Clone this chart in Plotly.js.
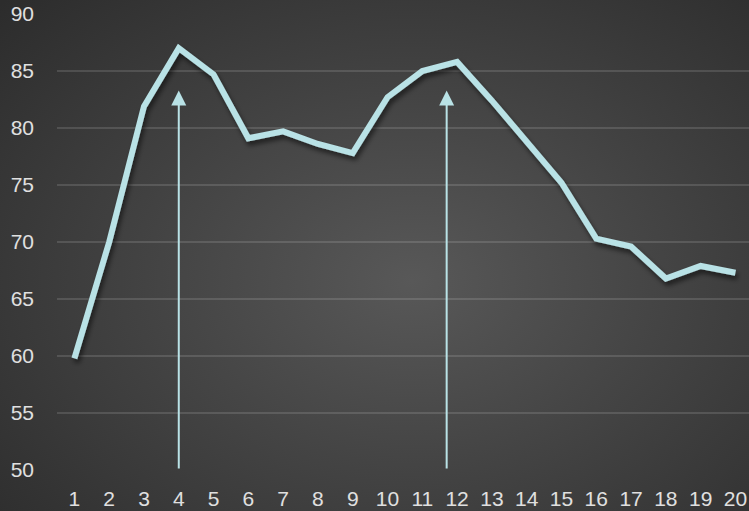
<!DOCTYPE html>
<html>
<head>
<meta charset="utf-8">
<script src="https://cdn.plot.ly/plotly-3.0.1.min.js"></script>
<style>
html,body{margin:0;padding:0;}
body{width:749px;height:511px;overflow:hidden;
background:radial-gradient(ellipse 75% 80% at 55% 55%, #585858 0%, #444 45%, #2c2c2c 100%);}
#chart{width:749px;height:511px;}
</style>
</head>
<body>
<div id="chart"></div>
<script>
var categories = [1,2,3,4,5,6,7,8,9,10,11,12,13,14,15,16,17,18,19,20];
var values = [59.8,70.0,81.9,87.0,84.7,79.1,79.7,78.6,77.8,82.7,85.0,85.8,82.4,78.9,75.2,70.3,69.6,66.8,67.9,67.3];
var yTicks = [50,55,60,65,70,75,80,85,90];
var arrowX = [4, 11.7];
var arrowBase = [50, 50];
var arrowTop = [83.3, 83.3];

var lineColor = '#b9e2e6';
var labelColor = '#e0e0e0';

var trace = {
  x: categories, y: values, type: 'scatter', mode: 'lines',
  line: {color: lineColor, width: 6, shape: 'linear'},
  hoverinfo: 'skip'
};

var annotations = arrowX.map(function(x, i){
  return {x: x, y: arrowTop[i], ax: x, ay: arrowBase[i], xref:'x', yref:'y', axref:'x', ayref:'y',
    text:'', showarrow:true, arrowhead:2, arrowsize:1.5, arrowwidth:2, arrowcolor: lineColor, standoff:0};
});

var layout = {
  width: 749, height: 511,
  margin: {l:57, r:0, t:14, b:41, pad:0},
  paper_bgcolor: 'rgba(0,0,0,0)', plot_bgcolor: 'rgba(0,0,0,0)',
  showlegend: false,
  font: {family: 'Liberation Sans, Arial, sans-serif', color: labelColor, size: 21},
  xaxis: {range:[0.5, 20.39], tickvals: categories, ticktext: categories.map(String),
    showgrid:false, zeroline:false, showline:false, ticks:'', ticklabelstandoff: 14,
    tickfont:{size:21, color:labelColor}, fixedrange:true},
  yaxis: {range:[50,90], tickvals: yTicks, showgrid:true, gridcolor:'rgba(255,255,255,0.13)', gridwidth:1.5,
    zeroline:false, showline:false, ticks:'', ticklabelstandoff: 22,
    tickfont:{size:21, color:labelColor}, fixedrange:true},
  annotations: annotations
};

Plotly.newPlot('chart', [trace], layout, {displayModeBar:false, staticPlot:true}).then(function(){
  var svg = document.querySelector('#chart svg.main-svg');
  var ns = 'http://www.w3.org/2000/svg';
  var defs = svg.querySelector('defs') || svg.insertBefore(document.createElementNS(ns,'defs'), svg.firstChild);
  var f = document.createElementNS(ns,'filter');
  f.setAttribute('id','lineShadow');
  f.setAttribute('x','-10%'); f.setAttribute('y','-10%');
  f.setAttribute('width','120%'); f.setAttribute('height','130%');
  f.setAttribute('filterUnits','objectBoundingBox');
  f.innerHTML = '<feDropShadow dx="2" dy="4" stdDeviation="2.5" flood-color="#000" flood-opacity="0.55"/>';
  defs.appendChild(f);
  var p = document.querySelectorAll('#chart .scatterlayer .js-line');
  p.forEach(function(el){ el.setAttribute('filter','url(#lineShadow)'); el.style.strokeLinejoin='miter'; });
});
</script>
</body>
</html>
